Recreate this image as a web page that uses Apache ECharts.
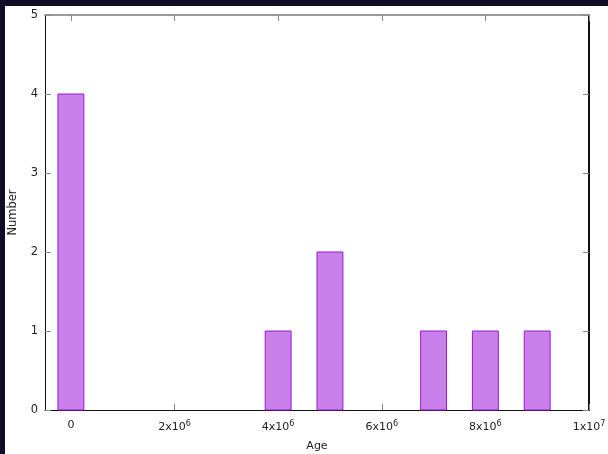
<!DOCTYPE html>
<html>
<head>
<meta charset="utf-8">
<script src="https://cdn.jsdelivr.net/npm/echarts@6/dist/echarts.min.js"></script>
<style>
  html, body { margin: 0; padding: 0; background: #110c28; }
  #chart { width: 608px; height: 454px; }
</style>
</head>
<body>
<div id="chart"></div>
<script>
// data
var ages = [0, 4000000, 5000000, 7000000, 8000000, 9000000];
var counts = [4, 1, 2, 1, 1, 1];
var xTicks = [0, 2000000, 4000000, 6000000, 8000000, 10000000];
var xTickLabels = ['0', '2x10{s|6}', '4x10{s|6}', '6x10{s|6}', '8x10{s|6}', '1x10{s|7}'];
var yTicks = [0, 1, 2, 3, 4, 5];

var binWidth = 500000;
var font = 'DejaVu Sans';
var textColor = '#222';

var myChart = echarts.init(document.getElementById('chart'));

var labelRich = {
    s: { fontSize: 8, verticalAlign: 'top', padding: [0, 0, 6, 0], color: textColor, fontFamily: font }
};

var option = {
    animation: false,
    graphic: [{
        type: 'rect',
        z: -10,
        shape: { x: 5, y: 6, width: 603, height: 448 },
        style: { fill: '#ffffff' }
    }],
    grid: { left: 45, right: 19, top: 15, bottom: 44, outerBoundsMode: 'none', containLabel: false },
    xAxis: [{
        type: 'value',
        min: -500000,
        max: 10000000,
        position: 'bottom',
        name: 'Age',
        nameLocation: 'middle',
        nameGap: 31,
        nameTextStyle: { fontFamily: font, fontSize: 11, color: textColor },
        splitLine: { show: false },
        axisLine: { onZero: false, lineStyle: { color: '#111', width: 1 } },
        axisTick: { inside: true, length: 6, customValues: xTicks, lineStyle: { color: '#888' } },
        axisLabel: {
            customValues: xTicks,
            showMaxLabel: true,
            margin: 10,
            fontFamily: font,
            fontSize: 11,
            color: textColor,
            rich: labelRich,
            formatter: function(v) {
                return xTickLabels[xTicks.indexOf(v)];
            }
        }
    }, {
        type: 'value',
        min: -500000,
        max: 10000000,
        position: 'top',
        splitLine: { show: false },
        axisLine: { onZero: false, lineStyle: { color: '#9a9a9a', width: 2 } },
        axisTick: { inside: true, length: 6, customValues: xTicks, lineStyle: { color: '#888' } },
        axisLabel: { show: false }
    }],
    yAxis: [{
        type: 'value',
        min: 0,
        max: 5,
        interval: 1,
        position: 'left',
        name: 'Number',
        nameLocation: 'middle',
        nameGap: 26,
        nameTextStyle: { fontFamily: font, fontSize: 11.5, color: textColor },
        splitLine: { show: false },
        axisLine: { show: true, onZero: false, lineStyle: { color: '#111', width: 1 } },
        axisTick: { show: true, inside: true, length: 6, lineStyle: { color: '#888' } },
        axisLabel: { margin: 7, fontFamily: font, fontSize: 11.5, color: textColor }
    }, {
        type: 'value',
        min: 0,
        max: 5,
        interval: 1,
        position: 'right',
        splitLine: { show: false },
        axisLine: { show: true, onZero: false, lineStyle: { color: '#111', width: 2 } },
        axisTick: { show: true, inside: true, length: 6, lineStyle: { color: '#888' } },
        axisLabel: { show: false }
    }],
    series: [{
        type: 'custom',
        xAxisIndex: 0,
        yAxisIndex: 0,
        data: ages.map(function(a, i) { return [a, counts[i]]; }),
        renderItem: function(params, api) {
            var x = api.value(0);
            var y = api.value(1);
            var p1 = api.coord([x - binWidth / 2, y]);
            var p2 = api.coord([x + binWidth / 2, 0]);
            return {
                type: 'rect',
                shape: { x: p1[0], y: p1[1], width: p2[0] - p1[0], height: p2[1] - p1[1] },
                style: { fill: '#c980ea', stroke: '#9a18d8', lineWidth: 1 }
            };
        }
    }]
};

myChart.setOption(option);

window.onresize = function() {
    myChart.resize();
};
</script>
</body>
</html>
